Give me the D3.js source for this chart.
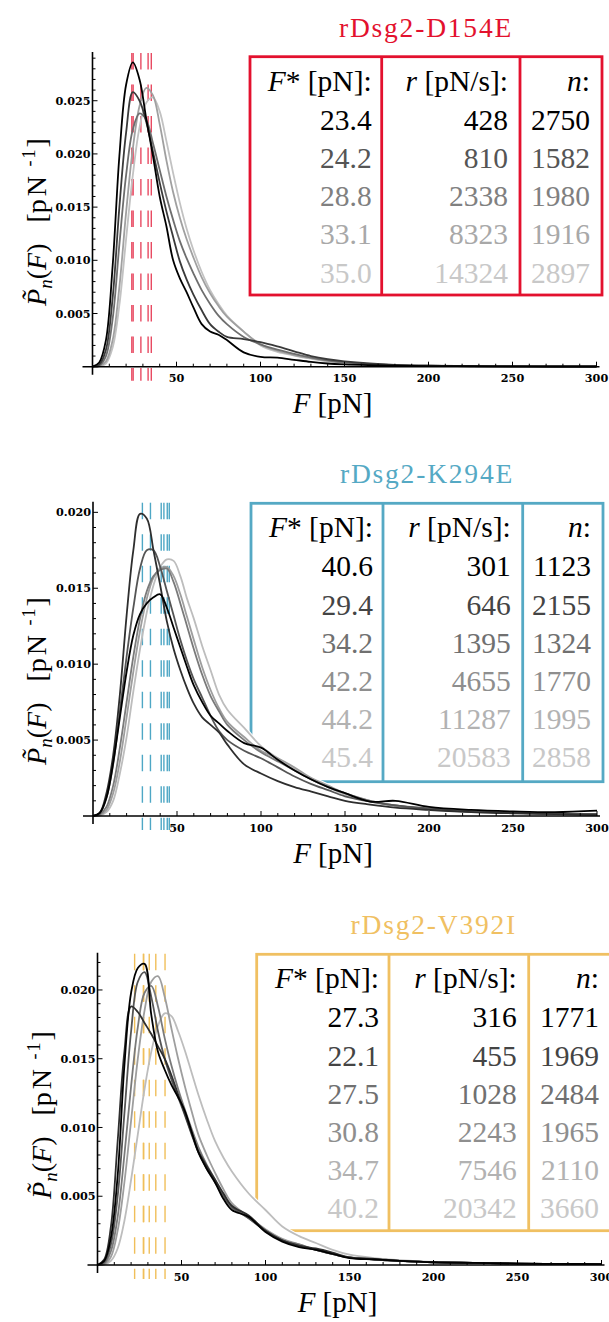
<!DOCTYPE html>
<html>
<head>
<meta charset="utf-8">
<script src="https://cdn.jsdelivr.net/npm/d3@7"></script>
<style>
  html, body { margin: 0; padding: 0; background: #fff; }
  svg { display: block; }
  .serif { font-family: "Liberation Serif", "DejaVu Serif", "Times New Roman", serif; }
  .tickf { font-family: "DejaVu Serif", "Liberation Serif", serif; font-weight: bold; }
</style>
</head>
<body>
<svg id="fig" width="609" height="1322"></svg>
<script>
// ---------------------------------------------------------------
// Rupture-force distributions for three rDsg2 mutants.
// Densities are given in units of 1e-3 pN^-1 on a common force grid.
// ---------------------------------------------------------------
const forceGrid = [0,4,8,12,16,20,24,28,32,36,40,44,48,52,56,60,65,70,75,80,90,100,110,120,130,140,150,165,180,200,225,250,275,300];
const xTicks = [50, 100, 150, 200, 250, 300];

// --- rDsg2-D154E ---
const d154eTitle = "rDsg2-D154E";
const d154eFstar = [23.4, 24.2, 28.8, 33.1, 35.0];
const d154eRate  = [428, 810, 2338, 8323, 14324];
const d154eN     = [2750, 1582, 1980, 1916, 2897];
const d154eYTicks = [0.005, 0.010, 0.015, 0.020, 0.025];
const d154eCurves = [
  [0,0.4,2.5,9.5,19.8,26.5,28.6,27.0,23.3,19.8,16.0,13.2,10.0,8.3,7.0,5.6,4.0,3.3,3.0,2.5,1.35,0.92,0.85,0.65,0.45,0.3,0.22,0.15,0.1,0.06,0.04,0.03,0.02,0.02],
  [0,0.2,1.6,6.5,15.0,22.0,25.8,25.0,23.0,20.2,17.3,14.6,12.2,9.9,8.2,6.8,5.3,4.0,3.3,2.8,2.6,2.3,1.9,1.45,1.0,0.7,0.5,0.3,0.18,0.1,0.06,0.04,0.03,0.02],
  [0,0.1,1.0,4.5,11.5,18.0,22.3,23.8,23.2,21.0,18.5,16.0,13.8,11.8,10.2,8.8,7.2,5.9,4.8,4.0,2.8,2.1,1.6,1.2,0.85,0.6,0.4,0.25,0.15,0.09,0.05,0.03,0.02,0.02],
  [0,0.05,0.5,2.5,7.5,14.5,20.5,24.5,26.2,25.5,22.8,19.4,16.4,14.0,12.0,10.3,8.4,6.9,5.7,4.7,3.3,2.1,1.5,1.1,0.8,0.55,0.4,0.25,0.15,0.09,0.05,0.03,0.02,0.02],
  [0,0.03,0.3,1.8,5.8,12.0,18.0,22.5,24.8,25.3,24.0,21.2,18.2,15.4,13.0,11.0,8.9,7.2,5.9,4.8,3.3,2.0,1.4,1.05,0.75,0.5,0.38,0.24,0.15,0.09,0.05,0.03,0.02,0.02]
];

// --- rDsg2-K294E ---
const k294eTitle = "rDsg2-K294E";
const k294eFstar = [40.6, 29.4, 34.2, 42.2, 44.2, 45.4];
const k294eRate  = [301, 646, 1395, 4655, 11287, 20583];
const k294eN     = [1123, 2155, 1324, 1770, 1995, 2858];
const k294eYTicks = [0.005, 0.010, 0.015, 0.020];
const k294eCurves = [
  [0,0.2,1.2,3.5,6.5,9.5,11.9,13.3,14.0,14.4,14.6,13.7,12.4,11.1,9.8,8.6,7.5,6.6,6.1,5.6,4.8,4.5,3.7,3.0,2.4,1.9,1.5,0.95,1.0,0.6,0.4,0.3,0.25,0.35],
  [0,0.2,1.5,4.0,8.0,13.2,17.5,19.9,19.6,17.5,15.2,12.8,11.0,9.6,8.4,7.4,6.5,6.0,5.5,4.7,3.4,2.8,2.3,1.9,1.6,1.3,1.0,0.75,0.55,0.4,0.25,0.18,0.12,0.1],
  [0,0.15,1.2,3.4,6.9,10.5,13.7,16.3,17.5,17.5,16.4,14.8,13.2,11.6,10.2,9.0,7.8,6.6,5.6,5.0,4.3,3.8,3.2,2.6,2.1,1.7,1.3,0.95,0.7,0.5,0.3,0.2,0.15,0.1],
  [0,0.1,0.6,2.0,4.5,7.5,10.5,13.0,14.8,15.8,16.2,16.3,15.4,14.0,12.5,11.0,9.3,7.9,6.9,6.0,5.0,4.2,3.6,3.0,2.4,1.9,1.5,1.0,0.7,0.45,0.3,0.2,0.15,0.1],
  [0,0.05,0.4,1.5,3.6,6.5,9.5,12.2,14.3,15.7,16.3,16.4,15.8,14.6,13.1,11.6,9.8,8.3,7.1,6.2,5.2,4.3,3.8,3.2,2.5,2.0,1.5,1.0,0.7,0.45,0.3,0.2,0.15,0.1],
  [0,0.03,0.25,1.0,2.8,5.2,8.2,11.0,13.4,15.2,16.4,16.9,16.8,15.8,14.3,13.0,11.2,9.6,8.0,7.0,5.8,4.6,3.8,3.1,2.4,1.9,1.4,0.95,0.65,0.42,0.28,0.18,0.12,0.08]
];

// --- rDsg2-V392I ---
const v392iTitle = "rDsg2-V392I";
const v392iFstar = [27.3, 22.1, 27.5, 30.8, 34.7, 40.2];
const v392iRate  = [316, 455, 1028, 2243, 7546, 20342];
const v392iN     = [1771, 1969, 2484, 1965, 2110, 3660];
const v392iYTicks = [0.005, 0.010, 0.015, 0.020];
const v392iCurves = [
  [0,0.3,2.0,6.5,14.5,19.8,21.6,21.9,18.2,15.5,14.2,13.1,12.2,11.2,9.7,8.2,7.0,6.0,4.8,4.0,3.5,2.4,1.7,1.3,1.1,0.8,0.5,0.4,0.3,0.2,0.15,0.1,0.08,0.06],
  [0,0.4,2.8,9.0,15.5,18.8,18.4,17.6,16.8,15.9,15.0,13.8,12.4,11.0,9.6,8.3,7.2,6.2,5.2,4.3,3.6,2.5,1.8,1.4,1.2,0.9,0.55,0.45,0.3,0.2,0.15,0.1,0.08,0.06],
  [0,0.2,1.5,5.0,11.0,17.0,20.6,21.3,19.5,17.0,15.0,13.5,12.2,10.9,9.5,8.2,7.0,6.0,5.0,4.2,3.4,2.5,1.8,1.4,1.1,0.8,0.55,0.4,0.3,0.2,0.15,0.1,0.08,0.06],
  [0,0.1,1.0,3.5,8.0,13.0,17.3,19.8,20.3,18.8,16.5,14.5,12.8,11.3,9.9,8.6,7.3,6.2,5.1,4.3,3.4,2.5,1.8,1.5,1.1,0.8,0.55,0.4,0.3,0.2,0.15,0.1,0.08,0.06],
  [0,0.05,0.6,2.5,6.0,10.5,15.0,18.5,20.6,21.0,19.5,17.2,15.0,13.0,11.2,9.5,8.0,6.7,5.5,4.5,3.5,2.6,1.9,1.5,1.1,0.8,0.55,0.4,0.3,0.2,0.15,0.1,0.08,0.06],
  [0,0.03,0.3,1.2,3.2,6.2,9.5,12.8,15.5,17.4,18.3,18.1,17.0,15.6,14.0,12.4,10.6,9.0,7.8,6.8,5.2,4.0,2.8,2.1,1.6,1.1,0.75,0.5,0.35,0.22,0.15,0.1,0.08,0.06]
];

// ---------------------------------------------------------------
// Layout and styling
// ---------------------------------------------------------------
const panels = [
  { title: d154eTitle, fstar: d154eFstar, rate: d154eRate, n: d154eN, curves: d154eCurves, yTicks: d154eYTicks,
    x0: 92.5, base: 366.7, top: 52, yMax: 0.02958,
    box: { l: 250, t: 56.7, r: 602, b: 295, d1: 381.7, d2: 520 },
    color: "#e3112e", dash: "#e84a62", yLabelY: 222 },
  { title: k294eTitle, fstar: k294eFstar, rate: k294eRate, n: k294eN, curves: k294eCurves, yTicks: k294eYTicks,
    x0: 93, base: 816, top: 501.7, yMax: 0.0207,
    box: { l: 251, t: 503.3, r: 603, b: 781.7, d1: 383, d2: 522.7 },
    color: "#55a9c4", dash: "#4ea7c5", yLabelY: 681 },
  { title: v392iTitle, fstar: v392iFstar, rate: v392iRate, n: v392iN, curves: v392iCurves, yTicks: v392iYTicks,
    x0: 97.5, base: 1265, top: 952.7, yMax: 0.02271,
    box: { l: 256.7, t: 954.3, r: 611, b: 1230.7, d1: 389, d2: 528.7 },
    color: "#f0c062", dash: "#f0bf5a", yLabelY: 1115 }
];

const curveGray = {
  5: ["#000000", "#3a3a3a", "#6e6e6e", "#a0a0a0", "#c2c2c2"],
  6: ["#000000", "#2e2e2e", "#555555", "#7a7a7a", "#9e9e9e", "#bdbdbd"]
};
const textGray = {
  5: ["#000000", "#555555", "#808080", "#a8a8a8", "#c8c8c8"],
  6: ["#000000", "#444444", "#707070", "#8e8e8e", "#b2b2b2", "#c8c8c8"]
};

const svg = d3.select("#fig");

function drawPanel(P) {
  const g = svg.append("g");
  const x = d3.scaleLinear().domain([0, 300]).range([P.x0, P.x0 + 504]);
  const y = d3.scaleLinear().domain([0, P.yMax]).range([P.base, P.top]);
  const B = P.box;
  const nRows = P.fstar.length;

  // ---- title ----
  g.append("text").attr("class", "serif")
    .attr("x", (B.l + B.r) / 2).attr("y", B.t - 20)
    .attr("text-anchor", "middle")
    .style("font-size", "27.5px")
    .style("letter-spacing", "1.8px")
    .attr("fill", P.color)
    .text(P.title);

  // ---- table frame ----
  const frame = g.append("g").attr("fill", "none").attr("stroke", P.color).attr("stroke-width", 2.8);
  frame.append("rect").attr("x", B.l).attr("y", B.t).attr("width", B.r - B.l).attr("height", B.b - B.t);
  frame.append("line").attr("x1", B.d1).attr("x2", B.d1).attr("y1", B.t).attr("y2", B.b);
  frame.append("line").attr("x1", B.d2).attr("x2", B.d2).attr("y1", B.t).attr("y2", B.b);

  // ---- table text ----
  const colRight = [B.d1 - 10, B.d2 - 12, Math.min(B.r, 611) - 12];
  const tbl = g.append("g").attr("class", "serif").style("font-size", "29.5px").attr("text-anchor", "end");
  const hdrY = B.t + 34;
  const h1 = tbl.append("text").attr("x", colRight[0]).attr("y", hdrY);
  h1.append("tspan").style("font-style", "italic").text("F");
  h1.append("tspan").text("* [pN]:");
  const h2 = tbl.append("text").attr("x", colRight[1]).attr("y", hdrY);
  h2.append("tspan").style("font-style", "italic").text("r");
  h2.append("tspan").text(" [pN/s]:");
  const h3 = tbl.append("text").attr("x", colRight[2]).attr("y", hdrY);
  h3.append("tspan").style("font-style", "italic").text("n");
  h3.append("tspan").text(":");
  tbl.selectAll("text").style("white-space", "pre");

  const rows = d3.range(nRows).map(i => ({ i, f: P.fstar[i], r: P.rate[i], n: P.n[i] }));
  const rowY = i => B.t + 73 + 38.2 * i;
  const fmtF = d3.format(".1f");
  [["f", fmtF], ["r", String], ["n", String]].forEach(([k, fmt], c) => {
    tbl.selectAll(null).data(rows).join("text")
      .attr("x", colRight[c]).attr("y", d => rowY(d.i))
      .attr("fill", d => textGray[nRows][d.i])
      .text(d => fmt(d[k]));
  });

  // ---- curves ----
  const line = d3.line()
    .x((d, j) => x(forceGrid[j]))
    .y(d => y(Math.max(0, d) * 1e-3))
    .curve(d3.curveCatmullRom.alpha(0.5));
  const area = d3.area()
    .x((d, j) => x(forceGrid[j]))
    .y0(P.base)
    .y1(d => y(Math.max(0, d) * 1e-3))
    .curve(d3.curveCatmullRom.alpha(0.5));

  // white backing under the distributions (masks the frame where curves pass)
  g.append("g").selectAll("path").data(P.curves).join("path")
    .attr("d", area).attr("fill", "#fff").attr("stroke", "#fff").attr("stroke-width", 4);

  // F* markers
  g.append("g").selectAll("line").data(P.fstar).join("line")
    .attr("x1", d => x(d)).attr("x2", d => x(d))
    .attr("y1", P.top + 1).attr("y2", P.base + 14)
    .attr("stroke", P.dash).attr("stroke-width", 1.4)
    .attr("stroke-dasharray", "16.5,15");

  // distributions, lightest first so the darker ones sit on top
  const order = d3.range(nRows).reverse();
  g.append("g").selectAll("path").data(order).join("path")
    .attr("d", i => line(P.curves[i]))
    .attr("fill", "none")
    .attr("stroke", i => curveGray[nRows][i])
    .attr("stroke-width", 1.8)
    .attr("stroke-linejoin", "round");

  // ---- axes ----
  const ax = g.append("g").attr("stroke", "#000");
  ax.append("line").attr("x1", P.x0 - 10).attr("x2", x(300) + 3)
    .attr("y1", P.base).attr("y2", P.base).attr("stroke-width", 1.6);
  ax.append("line").attr("x1", P.x0).attr("x2", P.x0)
    .attr("y1", P.base + 8).attr("y2", P.top).attr("stroke-width", 1.6);

  // x ticks: minor every 10 pN, major every 50 pN
  const xMinor = d3.range(10, 301, 10);
  ax.selectAll(null).data(xMinor).join("line")
    .attr("x1", d => x(d)).attr("x2", d => x(d))
    .attr("y1", P.base).attr("y2", d => P.base - (d % 50 === 0 ? 5 : 3))
    .attr("stroke-width", 1);
  // y ticks: minor every 0.001, major every 0.005
  const yMinor = d3.range(1, Math.floor(P.yMax * 1000 + 1e-6) + 1).map(k => k / 1000);
  ax.selectAll(null).data(yMinor).join("line")
    .attr("x1", P.x0).attr("x2", (d, k) => P.x0 + ((k + 1) % 5 === 0 ? 5 : 3))
    .attr("y1", d => y(d)).attr("y2", d => y(d))
    .attr("stroke-width", 1);

  const tickFmt = d3.format(".3f");
  g.append("g").attr("class", "tickf").selectAll("text").data(P.yTicks).join("text")
    .attr("x", P.x0 - 2).attr("y", d => y(d)).attr("dy", "0.36em")
    .attr("text-anchor", "end")
    .style("font-size", "11.2px")
    .text(d => tickFmt(d));
  g.append("g").attr("class", "tickf").selectAll("text").data(xTicks).join("text")
    .attr("x", d => x(d)).attr("y", P.base + 15.5)
    .attr("text-anchor", "middle")
    .style("font-size", "11.2px")
    .text(d => d);

  // ---- axis labels ----
  const xl = g.append("text").attr("class", "serif")
    .attr("x", P.x0 + 240).attr("y", P.base + 46.5)
    .attr("text-anchor", "middle")
    .style("font-size", "29px").style("white-space", "pre");
  xl.append("tspan").style("font-style", "italic").text("F");
  xl.append("tspan").text(" [pN]");

  const yl = g.append("text").attr("class", "serif")
    .attr("transform", `translate(${P.x0 - 47},${P.yLabelY}) rotate(-90)`)
    .attr("text-anchor", "middle")
    .style("font-size", "28px").style("white-space", "pre");
  yl.append("tspan").style("font-style", "italic").text("P\u0303");
  yl.append("tspan").style("font-style", "italic").style("font-size", "19px").attr("dy", 6).text("n");
  yl.append("tspan").attr("dy", -6).text("(");
  yl.append("tspan").style("font-style", "italic").text("F");
  yl.append("tspan").text(")   [");
  yl.append("tspan").style("letter-spacing", "3px").text("pN");
  yl.append("tspan").style("font-size", "18px").attr("dy", -11).style("letter-spacing", "2px").text(" -1");
  yl.append("tspan").attr("dy", 11).text("]");
}

panels.forEach(drawPanel);
</script>
</body>
</html>
